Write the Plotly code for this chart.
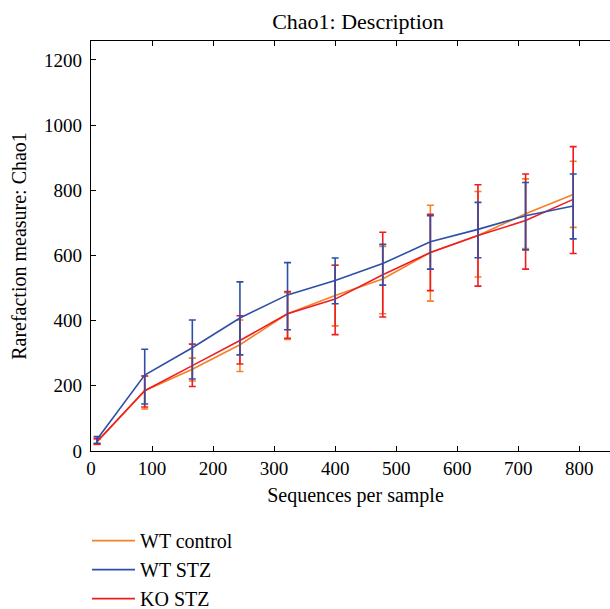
import plotly.graph_objects as go

seqs = [10, 88, 166, 244, 322, 400, 478, 556, 634, 712, 790]

wt_control = [28, 185, 251, 326, 421, 477, 528, 609, 661, 728, 787]
wt_control_hi = [38, 230, 285, 402, 486, 570, 628, 754, 796, 835, 889]
wt_control_lo = [20, 129, 215, 244, 342, 384, 421, 460, 534, 621, 686]

wt_stz = [36, 233, 317, 408, 479, 523, 575, 642, 680, 722, 752]
wt_stz_hi = [44, 312, 402, 519, 578, 592, 634, 722, 763, 824, 850]
wt_stz_lo = [24, 144, 221, 295, 372, 452, 509, 558, 593, 617, 651]

ko_stz = [29, 185, 262, 339, 421, 466, 541, 609, 661, 707, 772]
ko_stz_hi = [38, 230, 328, 415, 489, 570, 671, 726, 817, 850, 934]
ko_stz_lo = [21, 135, 198, 267, 346, 357, 411, 492, 506, 558, 606]

names = ["WT control", "WT STZ", "KO STZ"]
colors = {"WT control": "#F58025", "WT STZ": "#2E4FA8", "KO STZ": "#EE1D23"}
series = {
    "WT control": (wt_control, wt_control_hi, wt_control_lo),
    "WT STZ": (wt_stz, wt_stz_hi, wt_stz_lo),
    "KO STZ": (ko_stz, ko_stz_hi, ko_stz_lo),
}
draw_order = ["WT control", "KO STZ", "WT STZ"]

FONT = "Liberation Serif"

fig = go.Figure()
for name in draw_order:
    m, hi, lo = series[name]
    fig.add_trace(go.Scatter(
        x=seqs, y=m, mode="lines", name=name,
        line=dict(color=colors[name], width=1.6),
        legendrank=names.index(name) + 1,
        legendgroup=name,
        error_y=dict(type="data", symmetric=False,
                     array=[h - v for h, v in zip(hi, m)],
                     arrayminus=[v - l for l, v in zip(lo, m)],
                     color=colors[name], thickness=1.6, width=3.5),
    ))

axis_common = dict(
    showline=True, linecolor="black", linewidth=1.2, mirror="ticks",
    ticks="inside", ticklen=5, tickcolor="black", tickwidth=1,
    showgrid=False, zeroline=False, automargin=False,
    tickfont=dict(family=FONT, size=19, color="black"),
)

# plot area continues past the window's right edge, as in the reference
fig.update_layout(
    width=620, height=609,
    margin=dict(l=91, r=0, t=41, b=158, autoexpand=False),
    plot_bgcolor="white", paper_bgcolor="white",
    title=dict(text="Chao1: Description", x=358 / 620, xanchor="center",
               xref="container",
               y=1 - 21 / 609, yanchor="middle",
               font=dict(family=FONT, size=22, color="black")),
    xaxis=dict(range=[0, 866.7], tickvals=[0, 100, 200, 300, 400, 500, 600, 700, 800],
               title=dict(text="Sequences per sample", standoff=10,
                          font=dict(family=FONT, size=20, color="black")),
               **axis_common),
    yaxis=dict(range=[0, 1258], tickvals=[0, 200, 400, 600, 800, 1000, 1200],
               ticklabelstandoff=4,
               title=dict(text="Rarefaction measure: Chao1", standoff=12,
                          font=dict(family=FONT, size=20, color="black")),
               **axis_common),
    legend=dict(x=-4 / 529, xanchor="left", y=-0.171, yanchor="top",
                traceorder="grouped", tracegroupgap=0, itemwidth=43,
                font=dict(family=FONT, size=20, color="black"),
                bgcolor="rgba(0,0,0,0)"),
    showlegend=True,
)

fig.write_html(
    "out.html",
    config={"displayModeBar": False},
    post_script="document.body.style.margin='0';document.body.style.overflow='hidden';",
)
